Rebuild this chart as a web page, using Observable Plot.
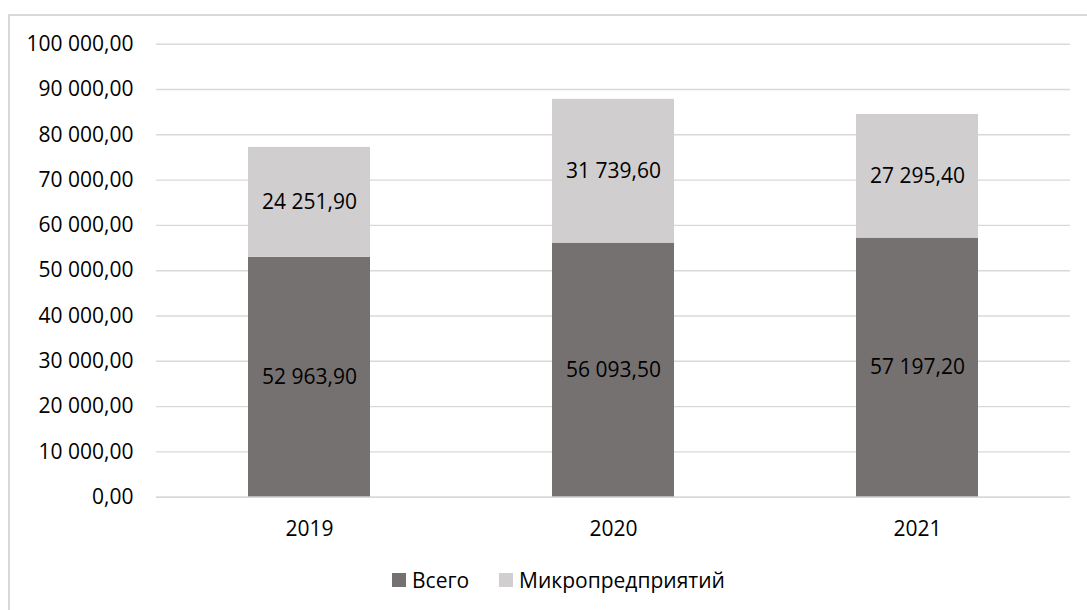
<!DOCTYPE html>
<html>
<head>
<meta charset="utf-8">
<script src="https://cdn.jsdelivr.net/npm/d3@7"></script>
<script src="https://cdn.jsdelivr.net/npm/@observablehq/plot@0.6"></script>
<style>
  html, body { margin: 0; padding: 0; background: #fff; overflow: hidden; width: 1087px; height: 610px; }
  #frame { position: absolute; left: 8px; top: 14px; width: 1200px; height: 700px; border: 2px solid #d9d9d9; box-sizing: border-box; }
  #chart { position: absolute; left: 0; top: 0; }
  #legend { position: absolute; left: 392px; top: 566px; display: flex; align-items: center; font-family: "Open Sans", sans-serif; font-size: 21px; color: #000; }
  .item { display: flex; align-items: center; margin-right: 30px; }
  .sw { width: 14px; height: 14px; margin-right: 6px; }
</style>
</head>
<body>
<div id="frame"></div>
<div id="chart"></div>
<div id="legend"></div>
<script>
const years = ["2019", "2020", "2021"];
const series = ["Всего", "Микропредприятий"];
const total = [52963.9, 56093.5, 57197.2];
const micro = [24251.9, 31739.6, 27295.4];
const colors = ["#767171", "#d0cece"];
const yTicks = [0, 10000, 20000, 30000, 40000, 50000, 60000, 70000, 80000, 90000, 100000];

const rows = [];
years.forEach((yr, i) => {
  rows.push({year: yr, series: series[0], value: total[i]});
  rows.push({year: yr, series: series[1], value: micro[i]});
});

const loc = d3.formatLocale({decimal: ",", thousands: " ", grouping: [3], currency: ["", ""]});
const fmt = loc.format(",.2f");

const chart = Plot.plot({
  width: 1087,
  height: 550,
  marginTop: 43.7,
  marginBottom: 53.3,
  marginLeft: 156,
  marginRight: 17,
  style: {fontFamily: "'Open Sans', sans-serif", fontSize: "21px", color: "#000", background: "transparent"},
  x: {domain: years, paddingInner: 0.6, paddingOuter: 0.3, label: null},
  y: {domain: [0, 100000], label: null},
  color: {domain: series, range: colors},
  marks: [
    Plot.gridY(yTicks, {stroke: "#d9d9d9", strokeOpacity: 1, strokeWidth: 1.4}),
    Plot.axisY(yTicks, {tickSize: 0, tickPadding: 23, tickFormat: fmt, fontSize: 21, label: null}),
    Plot.axisX({tickSize: 0, tickPadding: 24, fontSize: 21, label: null}),
    Plot.barY(rows, {x: "year", y: "value", fill: "series", order: series}),
    Plot.ruleY([0], {stroke: "#d9d9d9", strokeWidth: 1.4}),
    Plot.text(rows, Plot.stackY({x: "year", y: "value", z: "series", order: series, text: d => fmt(d.value), fill: "#000", fontSize: 21}))
  ]
});
document.getElementById("chart").appendChild(chart);

const legend = document.getElementById("legend");
series.forEach((s, i) => {
  const item = document.createElement("div");
  item.className = "item";
  const sw = document.createElement("span");
  sw.className = "sw";
  sw.style.background = colors[i];
  const t = document.createElement("span");
  t.textContent = s;
  item.appendChild(sw);
  item.appendChild(t);
  legend.appendChild(item);
});
</script>
</body>
</html>
